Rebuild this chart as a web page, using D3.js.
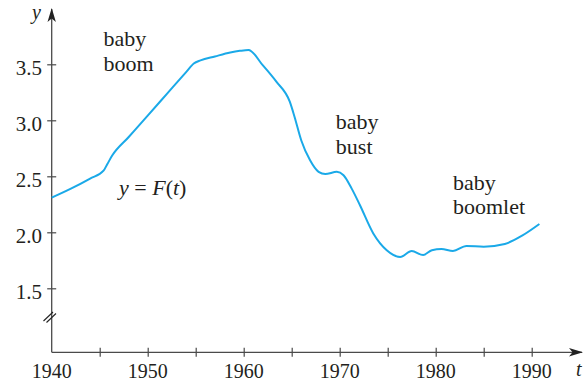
<!DOCTYPE html>
<html>
<head>
<meta charset="utf-8">
<script src="https://cdn.jsdelivr.net/npm/d3@7"></script>
<style>
  html, body { margin: 0; padding: 0; background: #fff; }
  svg { display: block; }
  svg text { font-family: "Liberation Serif", "DejaVu Serif", serif; }
</style>
</head>
<body>
<svg id="chart" width="584" height="382"></svg>
<script>
// Birth-rate curve y = F(t): sampled years and values
const years = [1940, 1942, 1944, 1945.4, 1945.8, 1946.3, 1948, 1950, 1952, 1954, 1954.8, 1955.5, 1957, 1958.6, 1959.6, 1960.5,
  1962, 1963.4, 1964.8, 1965.3, 1966, 1966.9, 1967.8, 1968.5, 1969.7, 1970.4, 1971.25, 1972.1, 1973.5,
  1974.9, 1976.3, 1977.5, 1978.7, 1979.6, 1980.6, 1981.8, 1983.2, 1985, 1987.2, 1989, 1990.8];
const values = [2.31, 2.39, 2.48, 2.55, 2.61, 2.685, 2.849, 3.042, 3.236, 3.43, 3.507, 3.535, 3.57, 3.605, 3.62, 3.628,
  3.49, 3.345, 3.166, 3.03, 2.82, 2.645, 2.54, 2.52, 2.54, 2.51, 2.39, 2.244, 1.99,
  1.84, 1.78, 1.833, 1.797, 1.84, 1.85, 1.833, 1.878, 1.872, 1.896, 1.97, 2.074];

// Axis ticks and labels
const xTicks = [1945, 1950, 1955, 1960, 1965, 1970, 1975, 1980, 1985, 1990];
const xLabels = [1940, 1950, 1960, 1970, 1980, 1990];
const yTicks = [1.5, 2.0, 2.5, 3.0, 3.5];

// Annotations
const notes = [
  { lines: ["baby", "boom"], year: 1945.4, value: 3.66 },
  { lines: ["baby", "bust"], year: 1969.6, value: 2.92 },
  { lines: ["baby", "boomlet"], year: 1981.8, value: 2.38 }
];

const svg = d3.select("#chart");
const ink = "#4a4a4a";
const textInk = "#231f20";
const curveColor = "#1aa9e8";

const x = d3.scaleLinear().domain([1940, 1990]).range([51.7, 531.7]);
const y = d3.scaleLinear().domain([1.5, 3.5]).range([288.3, 64.3]);

const originX = x(1940);
const axisY = 352.3;

// Arrowhead marker
const defs = svg.append("defs");
defs.append("marker")
  .attr("id", "arrow")
  .attr("viewBox", "0 0 14 10")
  .attr("refX", 13).attr("refY", 5)
  .attr("markerWidth", 14).attr("markerHeight", 10)
  .attr("markerUnits", "userSpaceOnUse")
  .attr("orient", "auto")
  .append("path")
  .attr("d", "M0,0.8 L14,5 L0,9.2 L3.5,5 Z")
  .attr("fill", "#222");

// x axis
const xAxis = d3.axisBottom(x).tickValues(xTicks).tickSize(4.5).tickFormat("");
const gx = svg.append("g").attr("transform", `translate(0,${axisY})`).call(xAxis);
gx.select(".domain").remove();
gx.selectAll(".tick line").attr("y1", -4.5).attr("y2", 4.5).attr("stroke", ink).attr("stroke-width", 1.2);
svg.append("line")
  .attr("x1", originX).attr("x2", 582).attr("y1", axisY).attr("y2", axisY)
  .attr("stroke", ink).attr("stroke-width", 1.3)
  .attr("marker-end", "url(#arrow)");
svg.append("g").selectAll("text").data(xLabels).join("text")
  .attr("x", d => x(d)).attr("y", axisY + 26)
  .attr("text-anchor", "middle")
  .attr("font-size", 20)
  .attr("fill", textInk)
  .text(d => d);
svg.append("text")
  .attr("x", 576).attr("y", 376)
  .attr("font-size", 20).attr("font-style", "italic")
  .attr("fill", textInk)
  .text("t");

// y axis
const yAxis = d3.axisLeft(y).tickValues(yTicks).tickSize(4.5).tickFormat("");
const gy = svg.append("g").attr("transform", `translate(${originX},0)`).call(yAxis);
gy.select(".domain").remove();
gy.selectAll(".tick line").attr("x1", -4.5).attr("x2", 4.5).attr("stroke", ink).attr("stroke-width", 1.2);
svg.append("line")
  .attr("x1", originX).attr("x2", originX).attr("y1", axisY).attr("y2", 9)
  .attr("stroke", ink).attr("stroke-width", 1.3)
  .attr("marker-end", "url(#arrow)");
svg.append("g").selectAll("text").data(yTicks).join("text")
  .attr("x", 42).attr("y", d => y(d))
  .attr("dy", "0.5em")
  .attr("text-anchor", "end")
  .attr("font-size", 21)
  .attr("fill", textInk)
  .text(d => d3.format(".1f")(d));
svg.append("text")
  .attr("x", 32).attr("y", 19)
  .attr("font-size", 20).attr("font-style", "italic")
  .attr("fill", textInk)
  .text("y");

// axis break marks
[0, 3].forEach(off => {
  svg.append("line")
    .attr("x1", 43.5 + off).attr("y1", 321 + off * 0.5)
    .attr("x2", 53 + off).attr("y2", 312 + off * 0.5)
    .attr("stroke", "#222").attr("stroke-width", 1.1);
});

// the curve
const line = d3.line()
  .x((d, i) => x(years[i]))
  .y(d => y(d))
  .curve(d3.curveMonotoneX);
svg.append("path")
  .datum(values)
  .attr("d", line)
  .attr("fill", "none")
  .attr("stroke", curveColor)
  .attr("stroke-width", 2);

// annotations
notes.forEach(n => {
  const t = svg.append("text")
    .attr("x", x(n.year)).attr("y", y(n.value))
    .attr("font-size", 22)
    .attr("fill", textInk);
  n.lines.forEach((s, i) => {
    t.append("tspan").attr("x", x(n.year)).attr("dy", i === 0 ? 0 : 24.5).text(s);
  });
});

// function label y = F(t)
const fl = svg.append("text").attr("x", 119).attr("y", 195).attr("font-size", 22).attr("fill", textInk);
fl.append("tspan").attr("font-style", "italic").text("y");
fl.append("tspan").text(" = ");
fl.append("tspan").attr("font-style", "italic").text("F");
fl.append("tspan").text("(");
fl.append("tspan").attr("font-style", "italic").text("t");
fl.append("tspan").text(")");
</script>
</body>
</html>
